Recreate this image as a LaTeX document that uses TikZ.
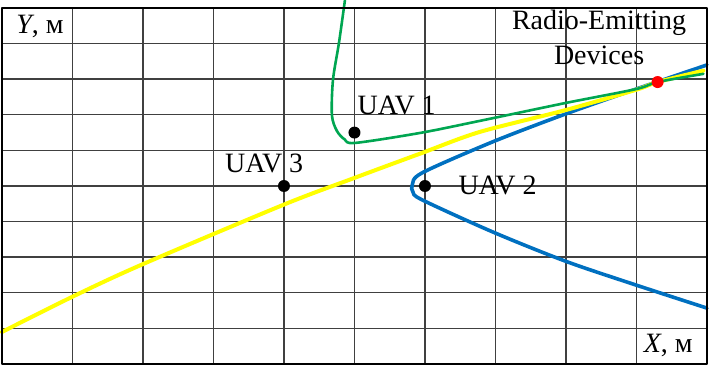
\documentclass[tikz,border=0pt]{standalone}
\usepackage{fontspec}
\setmainfont{Liberation Serif}
\definecolor{trackblue}{RGB}{0,112,192}
\definecolor{trackgreen}{RGB}{0,166,81}
\definecolor{trackyellow}{RGB}{255,255,0}
\begin{document}
\begin{tikzpicture}[x=35.25pt,y=17.8pt,line cap=round,line join=round,font=\fontsize{14}{17.5}\selectfont]
	\useasboundingbox (-0.028,-0.309) rectangle (10.043,10.225);
	\tikzset{uav/.style={circle,fill=black,inner sep=0pt,minimum size=6pt},
		lbl/.style={inner sep=0pt,anchor=base west},
		gridline/.style={black!75,line width=0.7pt}}
	\foreach \x in{1,...,9}{\draw[gridline] (\x,0) -- (\x,10);}
	\foreach \y in{1,...,9}{\draw[gridline] (0,\y) -- (10,\y);}
	% hyperbolas
	\draw[trackblue,line width=1.8pt] plot[smooth] coordinates{(10,8.40) (8.99,7.72) (7.99,7.02) (6.96,6.24) (5.96,5.37) (5.82,5.03) (5.83,4.83) (5.96,4.61) (6.96,3.71) (7.99,2.89) (8.99,2.22) (10,1.57)};
	\draw[trackyellow,line width=2pt] plot[smooth] coordinates{(0,0.9) (0.99,1.88) (1.97,2.78) (3.99,4.47) (4.99,5.22) (5.96,5.93) (6.78,6.52) (7.99,7.13) (8.99,7.70) (9.3,7.92) (9.95,8.24)};
	\draw[trackgreen,line width=1.3pt] plot[smooth] coordinates{(4.865,10.22) (4.78,9.02) (4.695,7.98) (4.68,6.99) (4.75,6.55) (4.86,6.31) (5.01,6.21) (5.93,6.49) (6.78,6.83) (7.99,7.33) (8.99,7.72) (9.3,7.92) (9.95,8.15)};
	\draw[line width=1.1pt] (0,0) rectangle (10,10);
	% UAVs and source
	\node[uav] (uav1) at (5,6.5) {};
	\node[uav] (uav2) at (6,5) {};
	\node[uav] (uav3) at (4,5) {};
	\node[uav,fill=red] (src) at (9.3,7.92) {};
	\node[lbl] (l1) at (5.04,7.02) {UAV 1};
	\node[lbl] (l2) at (6.47,4.75) {UAV 2};
	\node[lbl] (l3) at (3.16,5.37) {UAV 3};
	\node[inner sep=0pt,align=center,anchor=base] (ls) at (8.47,8.40) {Radio-Emitting\\Devices};
	\node[inner sep=0pt] (ly) at (0.54,9.47) {\itshape Y\upshape, м};
	\node[inner sep=0pt] (lx) at (9.45,0.53) {\itshape X\upshape, м};
\end{tikzpicture}
\end{document}
